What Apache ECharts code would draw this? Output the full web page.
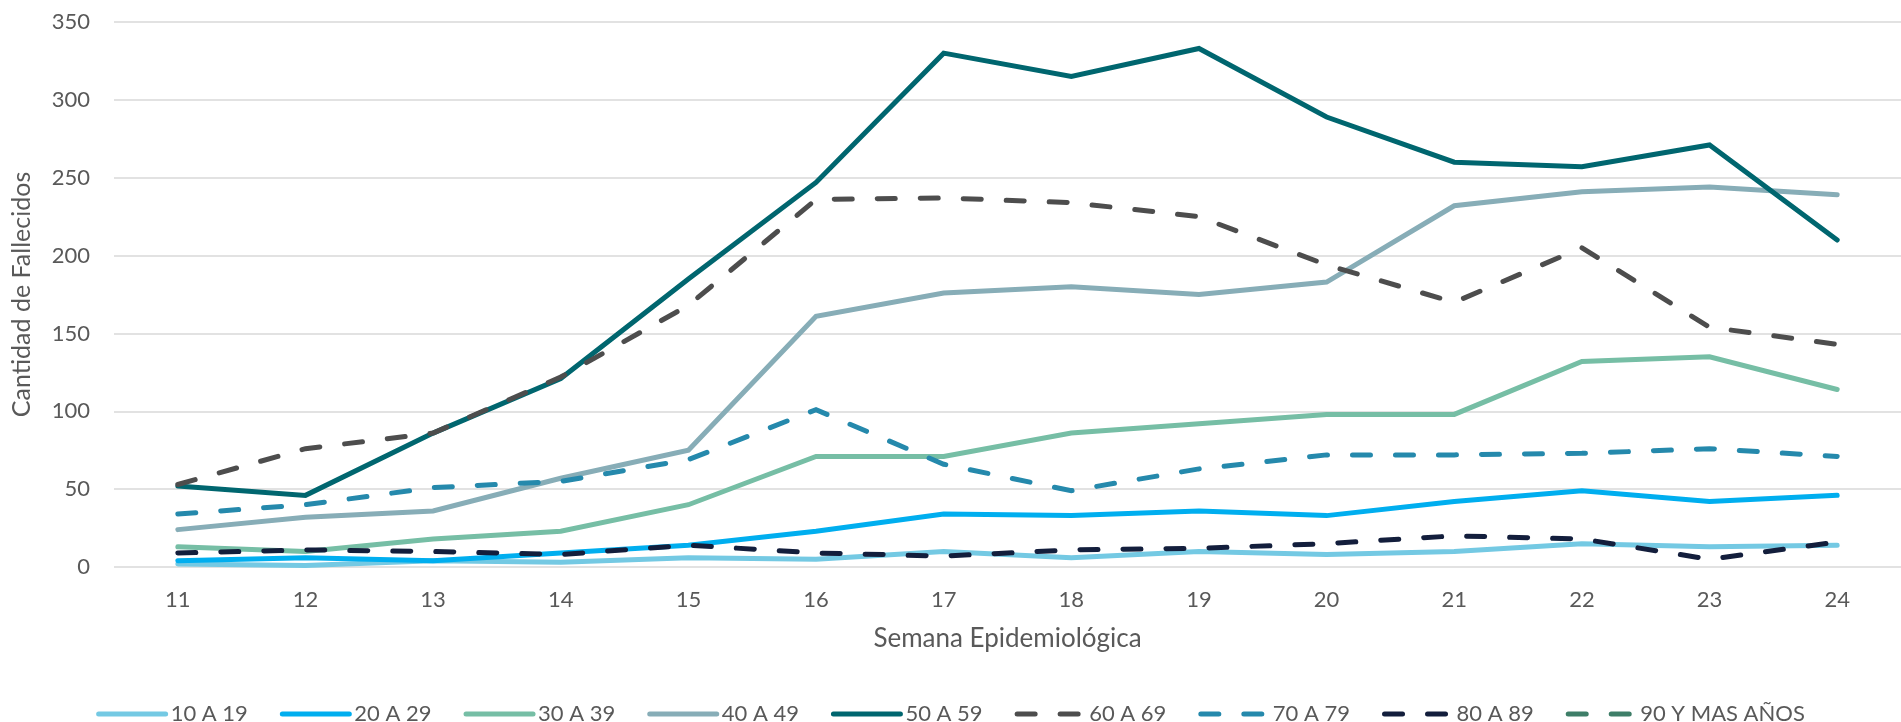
<!DOCTYPE html>
<html>
<head>
<meta charset="utf-8">
<script src="https://cdn.jsdelivr.net/npm/echarts@6/dist/echarts.min.js"></script>
<style>
html,body{margin:0;padding:0;background:#fff;}
#chart{width:1901px;height:722px;}
</style>
</head>
<body>
<div id="chart"></div>
<script>
const weeks = ['11','12','13','14','15','16','17','18','19','20','21','22','23','24'];
const yTicks = [0, 50, 100, 150, 200, 250, 300, 350];

const s10_19 = [2, 1, 4, 3, 6, 5, 10, 6, 10, 8, 10, 15, 13, 14];
const s20_29 = [4, 6, 4, 9, 14, 23, 34, 33, 36, 33, 42, 49, 42, 46];
const s30_39 = [13, 10, 18, 23, 40, 71, 71, 86, 92, 98, 98, 132, 135, 114];
const s40_49 = [24, 32, 36, 57, 75, 161, 176, 180, 175, 183, 232, 241, 244, 239];
const s50_59 = [52, 46, 86, 121, 185, 247, 330, 315, 333, 289, 260, 257, 271, 210];
const s60_69 = [53, 76, 86, 122, 168, 236, 237, 234, 225, 194, 170, 205, 154, 143];
const s70_79 = [34, 40, 51, 55, 69, 101, 66, 49, 63, 72, 72, 73, 76, 71];
const s80_89 = [9, 11, 10, 8, 14, 9, 7, 11, 12, 15, 20, 18, 5, 16];
const s90_mas = [null, null, null, null, null, null, null, null, null, null, null, null, null, null];

const seriesNames = ['10 A 19','20 A 29','30 A 39','40 A 49','50 A 59','60 A 69','70 A 79','80 A 89','90 Y MAS AÑOS'];
const seriesData = [s10_19, s20_29, s30_39, s40_49, s50_59, s60_69, s70_79, s80_89, s90_mas];
const seriesColors = ['#74C9E3','#00AEEF','#76BEA5','#87ADB7','#00666F','#4D4D4D','#2589AC','#131E3C','#3E7E68'];
const seriesDashed = [false,false,false,false,false,true,true,true,true];

const FONT = 'Lato';
const TXT = '#595959';

const chart = echarts.init(document.getElementById('chart'));
chart.setOption({
  animation: false,
  backgroundColor: '#ffffff',
  textStyle: { fontFamily: FONT },
  grid: { left: 114, right: 0, top: 22, bottom: 155 },
  legend: {
    top: 698,
    left: 'center',
    itemWidth: 67,
    itemHeight: 14,
    itemGap: 32,
    itemStyle: { opacity: 0 },
    lineStyle: { width: 5 },
    textStyle: { fontFamily: FONT, fontSize: 22, color: TXT },
    data: seriesNames
  },
  xAxis: {
    type: 'category',
    data: weeks,
    boundaryGap: true,
    name: 'Semana Epidemiológica',
    nameLocation: 'middle',
    nameGap: 59,
    nameTextStyle: { fontFamily: FONT, fontSize: 26, color: TXT },
    axisLine: { show: false },
    axisTick: { show: false },
    axisLabel: { fontFamily: FONT, fontSize: 22, color: TXT, margin: 22 }
  },
  yAxis: {
    type: 'value',
    min: yTicks[0],
    max: yTicks[yTicks.length - 1],
    interval: 50,
    name: 'Cantidad de Fallecidos',
    nameLocation: 'middle',
    nameGap: 80,
    nameTextStyle: { fontFamily: FONT, fontSize: 25, color: TXT },
    axisLine: { show: false },
    axisTick: { show: false },
    splitLine: { lineStyle: { color: '#D9D9D9', width: 1.5 } },
    axisLabel: { fontFamily: FONT, fontSize: 22, color: TXT, margin: 24 }
  },
  series: seriesNames.map((n, i) => ({
    name: n,
    type: 'line',
    data: seriesData[i],
    symbol: 'none',
    showSymbol: false,
    color: seriesColors[i],
    lineStyle: {
      color: seriesColors[i],
      width: 5,
      type: seriesDashed[i] ? [18, 25] : 'solid',
      cap: 'round',
      join: 'miter'
    }
  }))
});
</script>
</body>
</html>
